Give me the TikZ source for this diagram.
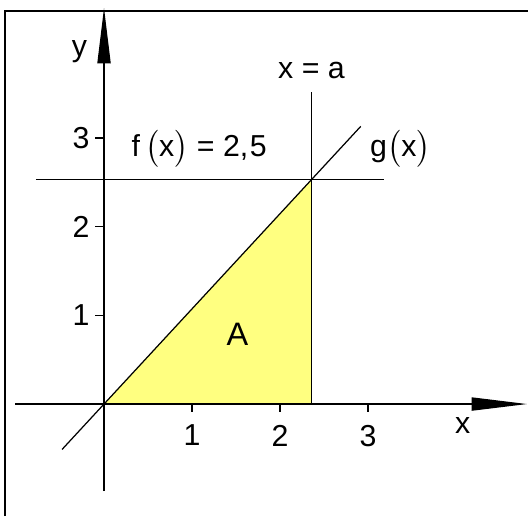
\documentclass[tikz,border=0pt]{standalone}
\usepackage{fontspec}
\setmainfont{Liberation Sans}
\definecolor{areayellow}{RGB}{255, 255, 128}
\usetikzlibrary{arrows.meta, positioning}
\tikzset{
	frameline/.style={line width=0.7pt, draw=black},
	axis/.style={-{Triangle[length=0.63cm, width=0.15cm]}, line width=0.4pt},
	graphline/.style={line width=0.4pt},
	tickmark/.style={line width=0.4pt},
	area/.style={fill=areayellow, draw=none},
	lbl/.style={inner sep=0pt, font=\fontsize{9.8}{11}\selectfont},
	biglbl/.style={inner sep=0pt, font=\fontsize{10.5}{12}\selectfont},
}

\begin{document}
\begin{tikzpicture}[x=1cm, y=1.008cm]
		\useasboundingbox (-1.182,-1.263) rectangle (4.818,4.555);
		% points
		\coordinate (O) at (0,0);
		\coordinate (S) at (2.36,2.533);
		\coordinate (Sx) at (2.36,0);
		\coordinate (at) at (2.36,3.517);
		\coordinate (fl) at (-0.773,2.533);
		\coordinate (fr) at (3.182,2.533);
		\coordinate (gl) at (-0.477,-0.512);
		\coordinate (gr) at (2.917,3.13);
		\coordinate (xl) at (-1.011,0);
		\coordinate (xr) at (4.807,0);
		\coordinate (yb) at (0,-0.981);
		\coordinate (yt) at (0,4.465);
		\coordinate (fb) at (-1.125,-1.263);
		\coordinate (ft) at (-1.125,4.431);
		\coordinate (fe) at (4.818,4.431);
		% area under g
		\fill[area] (O) -- (Sx) -- (S) -- cycle;
		% frame
		\draw[frameline] (fb) -- (ft) -- (fe);
		% graphs
		\draw[graphline] (fl) -- (fr);
		\draw[graphline] (Sx) -- (at);
		\draw[graphline] (gl) -- (gr);
		% axes
		\draw[axis] (xl) -- (xr);
		\draw[axis] (yb) -- (yt);
		\foreach \i in {1,2,3} {
			\draw[tickmark] (\i,0) -- (\i,-0.09) node[lbl, below=0.14cm] (xt\i) {\i};
			\draw[tickmark] (0,\i) -- (-0.102,\i) node[lbl, left=0.057cm] (yt\i) {\i};
		}
		\node[lbl, anchor=base] (xlab) at (4.076,-0.33) {x};
		\node[lbl, anchor=base] (ylab) at (-0.278,3.92) {y};
		% labels
		\node[lbl, anchor=base] (flab) at (1.081,2.788) {f\,$\big($x$\big)$ = 2,\kern0.05em5};
		\node[lbl, anchor=base] (alab) at (2.358,3.672) {x = a};
		\node[lbl, anchor=base] (glab) at (3.368,2.788) {g$\big($x$\big)$};
		\node[biglbl, anchor=base] (Alab) at (1.517,0.662) {A};
	\end{tikzpicture}
\end{document}
